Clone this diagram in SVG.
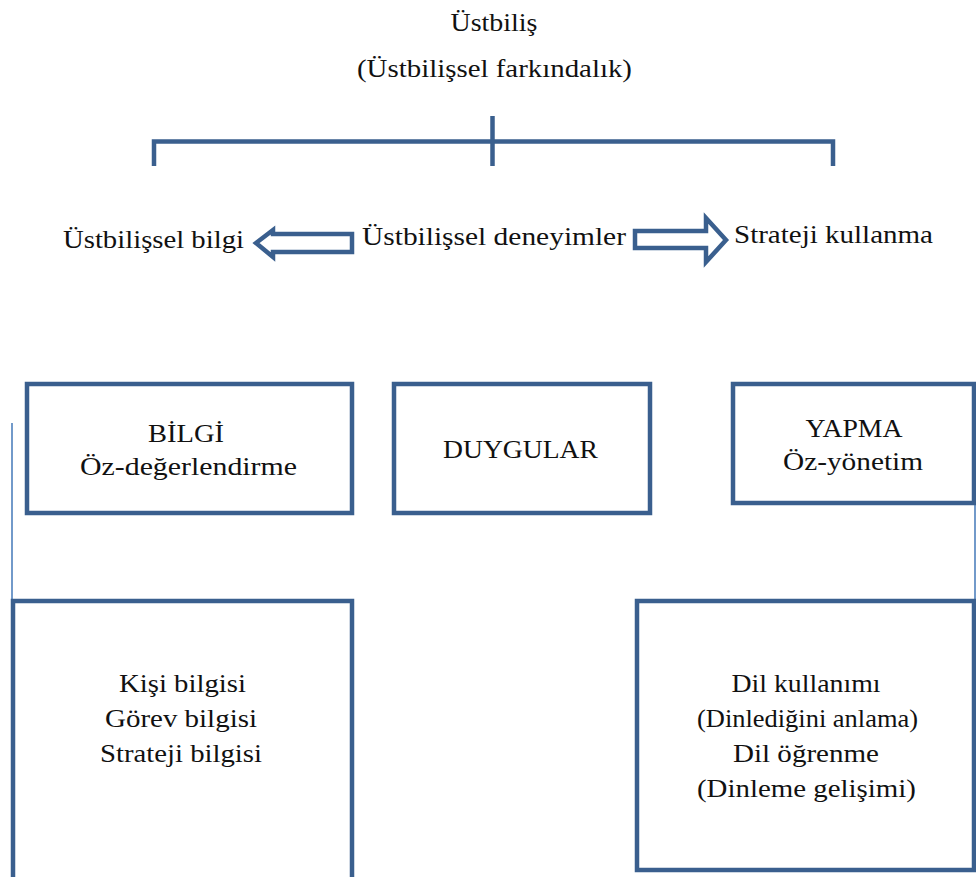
<svg xmlns="http://www.w3.org/2000/svg" width="976" height="877" viewBox="0 0 976 877">
<style>
.t{font-family:"Liberation Serif","Times New Roman",serif;font-size:25.5px;fill:#111;text-anchor:middle}
.s{fill:none;stroke:#3a5f8e;stroke-width:4.5}
.b{fill:#fff;stroke:#3a5f8e;stroke-width:4.5}
.thin{stroke:#4f81bd;stroke-width:1.6;fill:none}
</style>
<rect width="976" height="877" fill="#fff"/>
<g id="title">
<text class="t" x="494" y="31" textLength="87" lengthAdjust="spacingAndGlyphs">Üstbiliş</text>
<text class="t" x="494.5" y="77" textLength="275" lengthAdjust="spacingAndGlyphs">(Üstbilişsel farkındalık)</text>
</g>
<g id="connectors">
<path class="s" d="M154,166 V141.5 H833 V166"/>
<path class="s" d="M492.5,116 V166"/>
<path class="s" d="M352,234 H273 V230 L256,243 L273,257 V252 H352 Z"/>
<path class="s" d="M635,231 H706 V218 L726,240 L706,262 V248 H635 Z"/>
<line class="thin" x1="12" y1="423" x2="12" y2="674"/>
<line class="thin" x1="975" y1="420" x2="975" y2="680"/>
</g>
<g id="n-ustbilissel-bilgi"><text class="t" x="153.5" y="248" textLength="181" lengthAdjust="spacingAndGlyphs">Üstbilişsel bilgi</text></g>
<g id="n-deneyimler"><text class="t" x="494" y="245" textLength="264" lengthAdjust="spacingAndGlyphs">Üstbilişsel deneyimler</text></g>
<g id="n-strateji-kullanma"><text class="t" x="833.5" y="243" textLength="199" lengthAdjust="spacingAndGlyphs">Strateji kullanma</text></g>
<g id="n-bilgi">
<rect class="b" x="27" y="384" width="325" height="129"/>
<text class="t" x="186" y="442" textLength="76" lengthAdjust="spacingAndGlyphs">BİLGİ</text>
<text class="t" x="188.5" y="475" textLength="217" lengthAdjust="spacingAndGlyphs">Öz-değerlendirme</text>
</g>
<g id="n-duygular">
<rect class="b" x="394" y="384" width="256" height="129"/>
<text class="t" x="520.5" y="458" textLength="155" lengthAdjust="spacingAndGlyphs">DUYGULAR</text>
</g>
<g id="n-yapma">
<rect class="b" x="733" y="384" width="241" height="119"/>
<text class="t" x="854" y="437" textLength="97" lengthAdjust="spacingAndGlyphs">YAPMA</text>
<text class="t" x="853" y="470" textLength="140" lengthAdjust="spacingAndGlyphs">Öz-yönetim</text>
</g>
<g id="n-bilgi-turleri">
<rect class="b" x="13" y="601" width="339" height="300"/>
<text class="t" x="182.5" y="692" textLength="127" lengthAdjust="spacingAndGlyphs">Kişi bilgisi</text>
<text class="t" x="181" y="727" textLength="152" lengthAdjust="spacingAndGlyphs">Görev bilgisi</text>
<text class="t" x="181" y="762" textLength="162" lengthAdjust="spacingAndGlyphs">Strateji bilgisi</text>
</g>
<g id="n-dil">
<rect class="b" x="637" y="601" width="337" height="269"/>
<text class="t" x="806" y="692" textLength="149" lengthAdjust="spacingAndGlyphs">Dil kullanımı</text>
<text class="t" x="807.5" y="727" textLength="221" lengthAdjust="spacingAndGlyphs">(Dinlediğini anlama)</text>
<text class="t" x="806" y="762" textLength="146" lengthAdjust="spacingAndGlyphs">Dil öğrenme</text>
<text class="t" x="806.5" y="797" textLength="219" lengthAdjust="spacingAndGlyphs">(Dinleme gelişimi)</text>
</g>
</svg>
